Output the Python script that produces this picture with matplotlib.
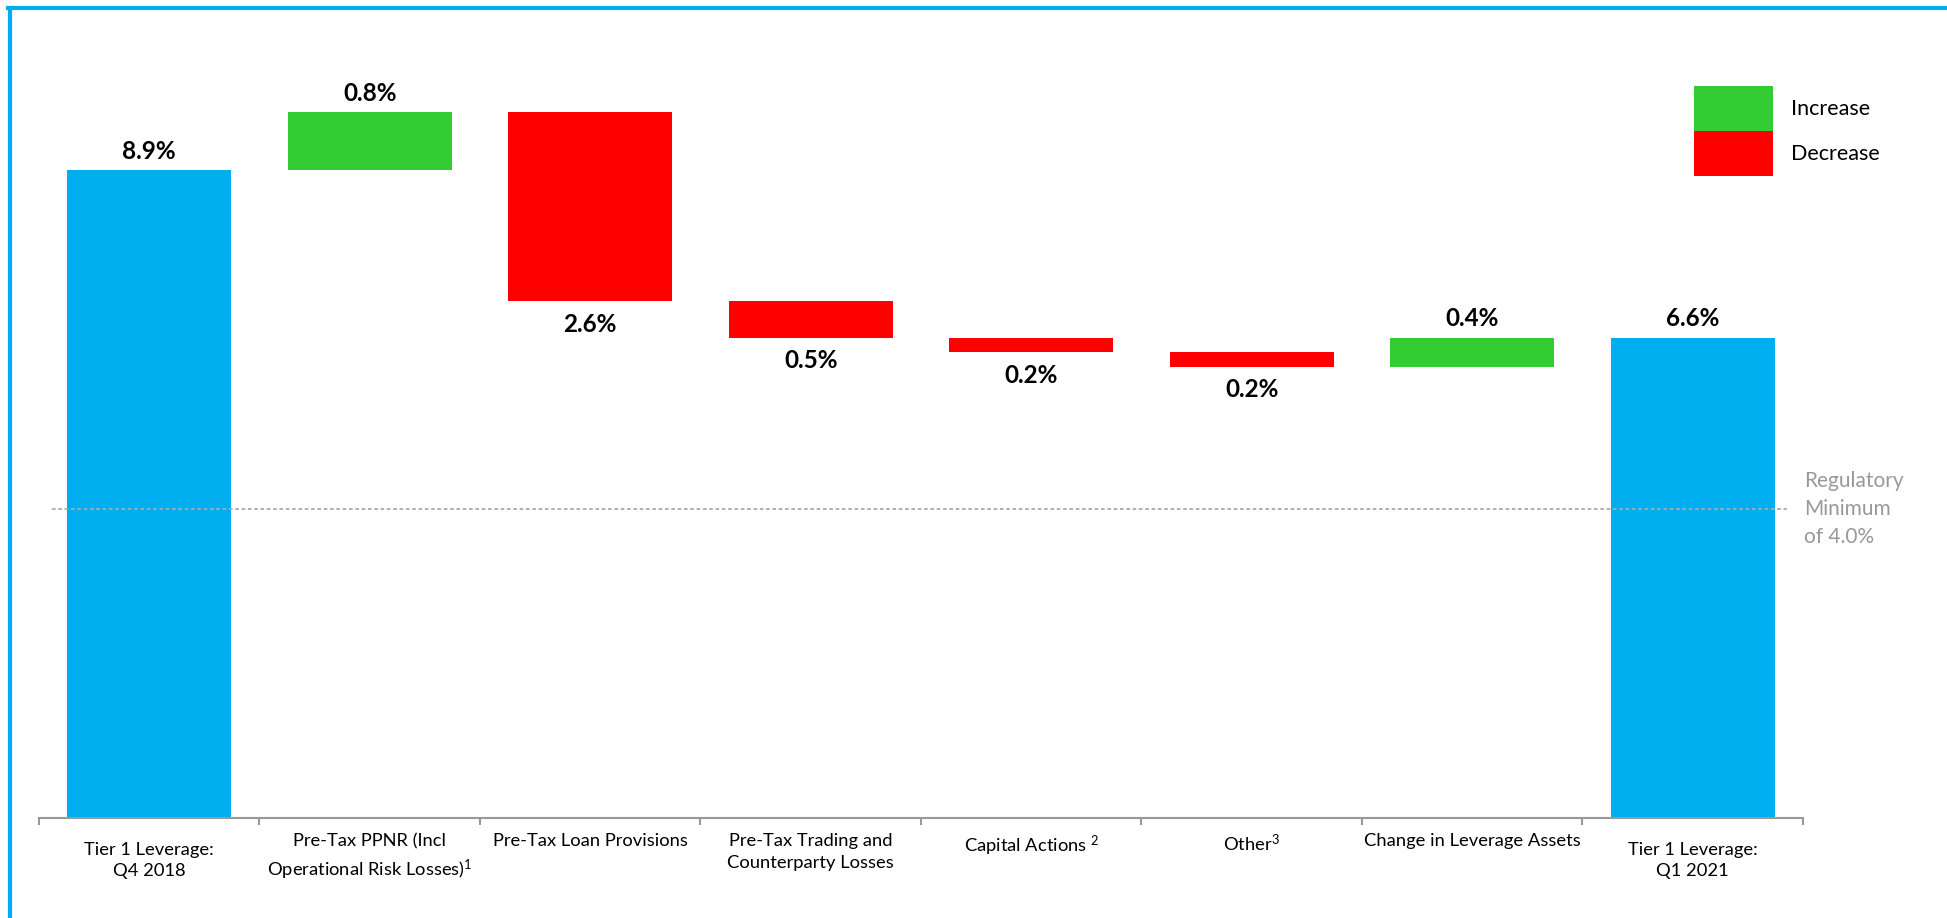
import numpy as np
import matplotlib
matplotlib.use("Agg")
import matplotlib.pyplot as plt
from matplotlib.patches import Patch
from matplotlib.lines import Line2D

# data (percent)
categories = ["Tier 1 Leverage:\nQ4 2018",
              "Pre-Tax PPNR (Incl\nOperational Risk Losses)$^{1}$",
              "Pre-Tax Loan Provisions",
              "Pre-Tax Trading and\nCounterparty Losses",
              "Capital Actions $^{2}$",
              "Other$^{3}$",
              "Change in Leverage Assets",
              "Tier 1 Leverage:\nQ1 2021"]
start_value = 8.9
changes = [0.8, -2.6, -0.5, -0.2, -0.2, 0.4]
end_value = 6.6
reg_line = 4.25  # where the dotted line sits in the picture
reg_label = "Regulatory\nMinimum\nof 4.0%"

BLUE = "#00AEEF"
GREEN = "#33CC33"
RED = "#FF0000"

plt.rcParams["font.family"] = ["Lato", "DejaVu Sans"]
plt.rcParams["mathtext.fontset"] = "custom"
plt.rcParams["mathtext.rm"] = "Lato"
plt.rcParams["mathtext.it"] = "Lato"
plt.rcParams["mathtext.bf"] = "Lato:bold"

fig = plt.figure(figsize=(19.47, 9.18), dpi=100)
ax = fig.add_axes([0.0200, 0.1089, 0.9060, 0.7930])

# build the waterfall
n = len(categories)
x = np.arange(n)
cum = start_value + np.cumsum([0] + changes)
bottoms = [0]
heights = [start_value]
colors = [BLUE]
for i, c in enumerate(changes):
    lo = min(cum[i], cum[i + 1])
    bottoms.append(lo)
    heights.append(abs(c))
    colors.append(GREEN if c > 0 else RED)
bottoms.append(0)
heights.append(end_value)
colors.append(BLUE)

ax.bar(x, heights, bottom=bottoms, width=0.745, color=colors, zorder=2)

# value labels: totals / increases above, decreases below
labels = [start_value] + [abs(c) for c in changes] + [end_value]
signs = [1] + [np.sign(c) for c in changes] + [1]
for i in range(n):
    txt = f"{labels[i]:.1f}%"
    if signs[i] > 0:
        ax.annotate(txt, (x[i], bottoms[i] + heights[i]), xytext=(0, 8),
                    textcoords="offset points", ha="center", va="baseline",
                    fontsize=17.5, fontweight="bold")
    else:
        ax.annotate(txt, (x[i], bottoms[i]), xytext=(0, -8.5),
                    textcoords="offset points", ha="center", va="top",
                    fontsize=17.5, fontweight="bold")

# regulatory minimum line
ax.hlines(reg_line, -0.44, 7.43, colors="#AAAAAA", linestyles=(0, (2, 1.5)),
          linewidth=1.3, zorder=3)
ax.annotate(reg_label, (7.5, reg_line), xytext=(1, 0), textcoords="offset points",
            ha="left", va="center", fontsize=15, color="#999999", linespacing=1.5,
            annotation_clip=False)

# category labels
for i, lab in enumerate(categories):
    pad = 17 if i in (0, n - 1) else 11
    ax.annotate(lab, (x[i], 0), xytext=(0, -pad), textcoords="offset points",
                xycoords=("data", "axes fraction"), ha="center", va="top",
                fontsize=13.2, linespacing=1.45, annotation_clip=False)

ax.set_xlim(-0.5, n - 0.5)
ax.set_ylim(0, 10)
for s in ["top", "right", "left"]:
    ax.spines[s].set_visible(False)
ax.spines["bottom"].set_color("#999999")
ax.spines["bottom"].set_linewidth(1.5)
ax.set_yticks([])
ax.set_xticks([])
ax.set_xticks(np.arange(-0.5, n), minor=True)
ax.tick_params(axis="x", which="minor", length=5, width=1.5, color="#999999",
               labelbottom=False)

# legend
handles = [Patch(facecolor=GREEN, edgecolor="none", label="Increase"),
           Patch(facecolor=RED, edgecolor="none", label="Decrease")]
fig.legend(handles=handles, loc="upper left", bbox_to_anchor=(0.870, 0.9063),
           frameon=False, fontsize=15.5, handlelength=3.67, handleheight=2.84,
           labelspacing=0, handletextpad=0.85, borderpad=0, borderaxespad=0)

# blue frame (top and left edges only)
fig.add_artist(Line2D([0.0051, 0.0051], [0, 0.9913], color=BLUE, linewidth=3,
                      transform=fig.transFigure))
fig.add_artist(Line2D([0.0043, 1.0], [0.9913, 0.9913], color=BLUE, linewidth=3,
                      transform=fig.transFigure))

fig.savefig("out.png", dpi=100)
